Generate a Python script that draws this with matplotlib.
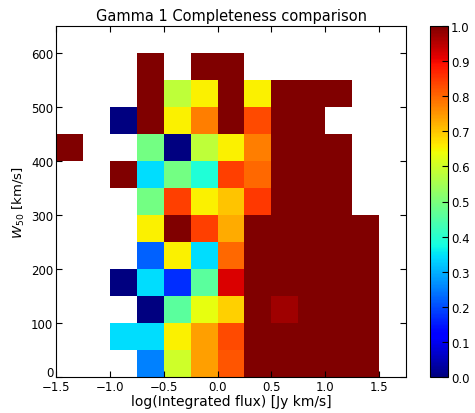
import numpy as np
import matplotlib
matplotlib.use("Agg")
import matplotlib.pyplot as plt
from matplotlib.transforms import ScaledTranslation

# bin edges
x_edges = np.arange(-1.5, 1.76, 0.25)
y_edges = np.arange(0, 651, 50)

N = np.nan
# completeness per (W50 row, flux column), bottom row first
completeness = [
    [N, N, N, 0.25, 0.60, 0.74, 0.82, 1.0, 1.0, 1.0, 1.0, 1.0, N],
    [N, N, 0.34, 0.34, 0.655, 0.74, 0.83, 1.0, 1.0, 1.0, 1.0, 1.0, N],
    [N, N, N, 0.0, 0.46, 0.63, 0.69, 1.0, 0.97, 1.0, 1.0, 1.0, N],
    [N, N, 0.0, 0.34, 0.17, 0.46, 0.92, 1.0, 1.0, 1.0, 1.0, 1.0, N],
    [N, N, N, 0.22, 0.655, 0.34, 0.80, 1.0, 1.0, 1.0, 1.0, 1.0, N],
    [N, N, N, 0.655, 1.0, 0.84, 0.73, 1.0, 1.0, 1.0, 1.0, 1.0, N],
    [N, N, N, 0.49, 0.84, 0.655, 0.70, 0.85, 1.0, 1.0, 1.0, N, N],
    [N, N, 1.0, 0.34, 0.49, 0.39, 0.84, 0.80, 1.0, 1.0, 1.0, N, N],
    [1.0, N, N, 0.49, 0.0, 0.58, 0.655, 0.775, 1.0, 1.0, 1.0, N, N],
    [N, N, 0.0, 1.0, 0.655, 0.775, 1.0, 0.83, 1.0, 1.0, N, N, N],
    [N, N, N, 1.0, 0.58, 0.655, 1.0, 0.655, 1.0, 1.0, 1.0, N, N],
    [N, N, N, 1.0, N, 1.0, 1.0, N, N, N, N, N, N],
    [N, N, N, N, N, N, N, N, N, N, N, N, N],
]

C = np.ma.masked_invalid(np.array(completeness, dtype=float))

fig = plt.figure(figsize=(4.75, 4.14), dpi=100)
ax = fig.add_axes([56/475, 36/414, 350/475, 351/414])
cax = fig.add_axes([430/475, 36/414, 18/475, 351/414])

mesh = ax.pcolormesh(x_edges, y_edges, C, cmap="jet", vmin=0, vmax=1)
ax.set_xlim(-1.5, 1.75)
ax.set_ylim(0, 650)
ax.set_xticks([-1.5, -1.0, -0.5, 0.0, 0.5, 1.0, 1.5])
ax.set_yticks([0, 100, 200, 300, 400, 500, 600])
ax.tick_params(direction="in", top=True, right=True, length=4, labelsize=8.5, pad=2)
ax.set_title("Gamma 1 Completeness comparison", fontsize=10.5, pad=4)
ax.set_xlabel("log(Integrated flux) [Jy km/s]", fontsize=10, labelpad=1)
ax.set_ylabel("$W_{50}$ [km/s]", fontsize=9.5, labelpad=3)

# nudge the "0" label up so it clears the x tick labels
fig.canvas.draw()
lbl0 = ax.get_yticklabels()[0]
lbl0.set_transform(lbl0.get_transform() + ScaledTranslation(0, 4/72, fig.dpi_scale_trans))

cb = fig.colorbar(mesh, cax=cax)
cb.set_ticks(np.arange(0, 1.01, 0.1))
cb.ax.tick_params(direction="in", length=4, labelsize=8.5, pad=2)

fig.savefig("out.png", dpi=100)
